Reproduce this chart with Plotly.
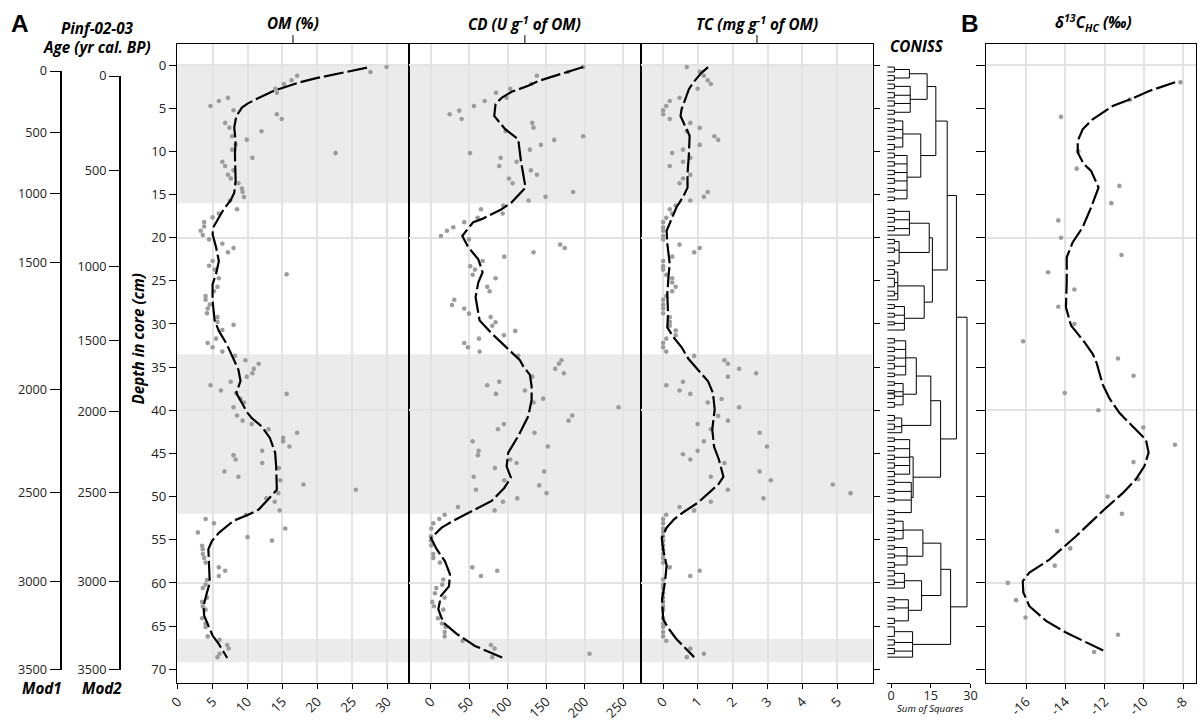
import plotly.graph_objects as go

# The page keeps the browser's default 8px body margin and the photograph covers a
# (W+16)x(H+16) page area scaled back to W x H, so positions are given in photo
# pixels and converted here.
W, H = 1204, 722
OFF = 8
SX, SY = (W + 2 * OFF) / W, (H + 2 * OFF) / H
def fx(px): return (px * SX - OFF) / W
def fy(py): return 1 - (py * SY - OFF) / H
FS = 1.015  # font compensation for the down-scaling

# ---------------- data ----------------
depth_ticks = [0, 5, 10, 15, 20, 25, 30, 35, 40, 45, 50, 55, 60, 65, 70]
grid_depths = [0, 20, 40, 60]

# age-depth models: tick ages and their depth position (cm)
mod_ages = [0, 500, 1000, 1500, 2000, 2500, 3000, 3500]
mod1_depth = [0.69, 7.83, 14.88, 22.86, 37.62, 49.58, 59.79, 70.0]
mod2_depth = [1.27, 12.26, 23.33, 31.92, 40.13, 49.58, 59.79, 70.0]

om_depth = [0.23,0.8,1.23,1.77,2.2,2.74,3.2,3.8,4.16,4.74,
            5.24,5.7,6.25,6.7,7.25,7.67,8.25,8.64,9.2,9.8,
            10.2,10.75,11.2,11.7,12.2,12.7,13.15,13.7,14.3,14.7,
            15.3,15.7,16.7,17.2,17.65,18.2,18.7,19.2,19.7,20.2,
            20.7,21.2,21.7,22.7,23.25,23.7,24.25,24.7,25.7,26.2,
            26.75,27.2,27.76,28.2,28.76,29.2,29.76,30.1,30.7,31.7,
            32.2,32.7,33.2,33.7,34.2,34.6,35.2,35.7,36.1,36.7,
            37.1,37.7,38.0,38.1,38.65,39.1,39.65,40.6,41.2,41.6,
            42.2,42.6,43.2,43.6,44.2,44.7,45.2,45.7,46.1,46.7,
            47.1,47.7,48.1,48.6,49.2,49.6,50.2,50.6,51.6,52.1,
            52.6,53.1,53.7,54.15,54.7,55.1,55.7,56.1,56.65,57.1,
            57.65,58.2,58.6,59.2,59.66,60.2,60.6,61.7,62.2,62.7,
            63.1,64.1,64.7,65.1,66.2,66.6,67.2,67.6,68.2,68.6]
om_value = [29.9,27.6,17.1,16.3,15.2,14.0,14.2,7.2,5.9,4.7,
            8.0,14.2,14.9,6.8,7.4,12.0,7.8,9.9,8.3,7.8,
            22.6,10.7,6.4,6.8,8.0,7.2,7.6,8.7,9.2,9.3,
            9.5,7.5,8.5,5.9,5.0,3.8,3.8,3.3,3.6,4.5,
            6.4,8.0,7.2,5.0,4.5,5.3,15.6,5.9,5.7,5.2,
            4.0,4.0,4.6,4.3,4.2,5.7,5.7,8.0,6.4,5.5,
            4.3,5.0,6.4,8.2,9.7,11.6,10.9,10.7,9.9,7.6,
            4.7,6.2,8.4,15.6,9.0,9.5,8.0,8.5,9.3,10.6,
            13.0,17.1,15.1,15.1,16.0,12.1,8.0,8.3,12.1,14.5,
            6.7,8.7,14.7,18.0,25.5,14.4,12.7,13.9,14.6,9.8,
            4.0,5.2,15.4,2.9,10.0,13.5,3.5,3.6,3.6,3.8,
            4.0,5.9,6.8,5.9,4.2,4.0,3.6,4.2,3.5,3.6,
            4.0,3.5,4.0,4.0,4.3,6.0,7.1,7.3,6.0,5.7]
om_line_depth = [0.3,1.54,2.04,2.54,3.0,4.0,4.47,4.93,5.9,7.25,
                 8.8,10.3,11.9,13.4,14.8,15.65,16.7,18.8,19.6,21.1,
                 22.7,24.2,25.4,27.3,29.6,30.8,32.3,34.2,35.3,36.6,
                 38.0,39.15,40.2,40.9,41.85,43.2,44.9,46.5,49.2,50.1,
                 51.5,52.1,52.8,54.2,55.15,56.1,57.65,60.0,61.1,62.7,
                 63.8,65.0,66.1,67.1,68.7]
om_line_value = [27.1,19.7,17.3,15.4,13.7,11.1,10.0,9.2,8.4,8.1,
                 8.3,8.2,8.3,8.3,8.1,7.6,6.6,5.1,5.0,5.5,
                 5.9,5.5,5.0,5.0,5.3,5.9,7.0,8.1,8.7,9.0,
                 8.4,9.2,9.9,10.6,12.0,13.2,13.95,14.1,14.2,13.2,
                 11.6,10.1,8.0,5.9,4.9,4.4,4.5,4.6,4.2,3.7,
                 3.8,4.4,5.0,5.9,7.1]

cd_depth = [0.23,0.8,1.23,2.2,2.74,3.2,3.78,4.16,4.74,5.28,
            5.7,6.25,6.7,7.25,7.67,8.25,8.67,9.25,9.8,10.2,
            10.75,11.2,11.7,12.2,12.7,13.15,13.7,14.7,15.27,15.7,
            16.27,16.7,17.2,17.7,18.2,18.8,19.2,19.8,20.2,20.8,
            21.2,21.7,22.2,22.7,23.3,23.7,24.3,24.7,25.7,26.2,
            27.2,27.8,28.2,28.8,29.2,29.8,30.2,30.8,31.3,31.7,
            32.2,32.7,33.2,33.7,34.2,34.6,35.2,35.7,36.1,36.7,
            37.1,37.7,38.1,38.65,39.1,39.65,40.6,41.2,41.6,42.2,
            42.6,43.6,44.2,44.7,45.2,45.7,46.1,46.7,47.1,47.7,
            48.1,48.7,49.2,49.6,50.2,50.6,51.2,51.6,52.1,52.6,
            53.1,53.7,54.6,55.1,55.65,56.65,57.1,57.65,58.2,58.6,
            59.2,59.6,60.2,60.6,61.2,61.7,62.2,62.7,63.1,64.1,
            64.7,65.1,65.7,66.2,66.7,67.2,67.6,68.2,68.6]
cd_value = [198,178.5,137.8,130.4,103.1,84.5,98.4,69.8,55.9,36.8,
            24.3,39.9,131.7,133.4,97.1,198,160.3,143,128.7,50.7,
            90.6,111.4,88.8,130,137.8,101.4,106.2,185,149,127,
            94,65,93.2,60.7,43.3,29,20.8,13,49.4,168,
            174,133.4,95.3,67.2,51.1,57.2,54.2,84,73.2,76.3,
            30.3,27.3,43.3,49.4,77.6,84,79.7,109.6,94.9,62.4,
            43.3,48.1,63.3,113.5,169.8,166.4,161.6,172.9,131.7,88.8,
            73.2,122.2,84.5,146,133.4,244,183.7,179,94.9,87.1,
            134.7,54.2,152,62,61,103,111.4,83.2,147.3,55.5,
            95.3,140.8,58.5,150.3,112.2,93.6,35.1,82.8,17.8,10.8,
            3,0.4,0,0,0.4,3,3,11.7,53.7,86.2,
            65,16,14.7,6.9,5.2,17.8,1.7,3.9,16,9.1,
            14.3,19.1,17.8,17.8,41.2,78,82.8,206.2,79.7]
cd_line_depth = [0.23,0.77,1.54,1.85,2.4,3.1,3.8,4.5,5.9,7.4,
                 8.6,11.1,14.2,15.9,16.7,17.85,18.2,19.8,21.1,22.5,
                 24.0,25.2,26.9,29.6,31.1,32.9,34.2,34.9,35.9,37.2,
                 38.8,40.7,43.0,44.9,46.5,47.8,49.0,50.5,51.7,52.8,
                 53.6,54.8,56.1,57.5,59.0,60.4,61.5,63.05,64.6,65.9,
                 67.3,68.7]
cd_line_value = [198,178.5,152.5,139.5,126.5,104.9,91.9,84,82.3,96.2,
                 113.5,117,123,104.9,91.9,65.9,55,40.7,48.5,61.5,
                 67.2,61.5,58,63.3,78.9,100.5,115.7,120,128.7,130.9,
                 130.9,126.5,113.5,100.5,98.4,104,95.3,78.9,52.9,29,
                 13.9,0,7.4,18.2,24.7,23.4,13,9.5,16,33.4,
                 57.2,94]

tc_depth = [0.23,0.77,1.23,1.77,2.2,2.74,3.78,4.16,4.74,5.24,
            5.7,6.25,6.7,7.28,7.67,8.25,8.67,9.25,9.8,10.2,
            10.75,11.2,11.7,12.7,13.15,13.7,14.7,15.27,15.7,16.27,
            16.7,17.2,17.7,18.2,18.8,19.2,19.8,20.2,20.8,21.2,
            21.7,22.2,22.7,23.3,23.7,24.3,24.7,25.2,25.7,26.2,
            26.75,27.2,27.76,28.2,28.76,29.2,29.76,30.2,30.76,31.3,
            31.7,32.2,32.7,33.2,33.7,34.2,34.6,35.2,35.7,36.1,
            36.7,37.1,37.7,38.1,38.7,39.1,39.65,40.65,41.2,41.6,
            42.2,42.6,43.6,44.2,44.7,45.1,45.7,46.1,47.1,47.7,
            48.1,48.6,49.2,49.6,50.2,50.6,51.2,51.6,52.1,52.6,
            53.1,53.7,54.1,54.6,55.1,55.65,56.1,56.65,57.1,57.65,
            58.2,58.6,59.2,59.6,60.2,60.6,61.2,61.7,62.2,62.7,
            63.1,64.1,64.7,65.1,65.7,66.2,66.7,67.6,68.2,68.6]
tc_value = [0.68,1.05,1.17,1.28,1.37,0.99,0.47,0.19,0.09,0.0,
            0.0,0.19,0.78,1.05,0.68,1.47,1.58,1.05,0.57,0.26,
            0.78,0.57,0.19,0.78,0.57,0.47,1.28,1.17,0.78,0.36,
            0.19,0.26,0.09,0.0,0.0,0.0,0.0,0.0,0.47,1.05,
            0.89,0.26,0.0,0.0,0.0,0.09,0.26,0.26,0.36,0.26,
            0.09,0.0,0.0,0.0,0.0,0.19,0.19,0.19,0.36,0.36,
            0.09,0.0,0.0,0.09,0.89,1.76,1.86,2.18,2.67,1.86,
            0.57,0.09,0.47,0.78,1.68,1.28,2.18,1.58,1.86,0.99,
            1.37,2.77,1.17,2.98,0.99,0.57,0.78,1.76,2.77,1.37,
            3.09,4.87,1.86,5.38,2.88,1.37,0.47,0.89,0.09,0.0,
            0.0,0.0,0.0,0.0,0.0,0.0,0.0,0.0,0.0,0.0,
            0.19,1.05,0.78,0.0,0.0,0.0,0.0,0.0,0.0,0.0,
            0.0,0.0,0.0,0.0,0.0,0.0,0.09,0.78,1.17,0.68]
tc_line_depth = [0.23,0.9,2.04,2.8,3.8,5.1,5.9,6.9,8.2,10.3,
                 12.6,14.2,15.3,16.5,18.2,19.2,20.7,23.05,24.2,26.5,
                 28.8,30.4,31.5,32.7,34.0,35.1,36.65,38.0,39.9,42.2,
                 44.2,45.7,47.7,48.6,49.6,50.7,51.7,52.6,53.6,54.8,
                 56.1,58.0,60.0,61.9,64.2,65.2,66.5,68.6]
tc_line_value = [1.29,1.1,0.86,0.74,0.65,0.53,0.5,0.62,0.76,0.74,
                 0.7,0.7,0.57,0.38,0.19,0.1,0.12,0.19,0.16,0.12,
                 0.14,0.12,0.29,0.53,0.72,0.96,1.29,1.43,1.48,1.41,
                 1.46,1.6,1.73,1.58,1.29,1.0,0.62,0.32,0.1,-0.04,
                 0.0,0.1,0.05,-0.03,0.0,0.14,0.38,0.89]

d13c_depth = [2,4,6,10,12,14,16,18,20,22,24,26,28,30,32,34,36,38,40,42,
              44,46,48,50,52,54,56,58,60,62,64,66,68]
d13c_value = [-8.14,-10.71,-14.22,-13.34,-13.42,-11.25,-11.66,-14.36,-14.22,-11.14,
              -14.88,-13.54,-14.36,-13.54,-16.15,-11.32,-10.53,-14.03,-12.32,-10.03,
              -8.42,-10.53,-10.29,-11.85,-11.12,-14.42,-13.75,-14.54,-16.93,-16.51,
              -16.03,-11.32,-12.54]
d13c_line_depth = [2.0,3.0,3.86,4.74,6.28,7.44,8.79,10.14,11.41,12.26,
                   14.19,16.5,18.8,20.55,22.28,24.98,28.06,30.18,32.1,33.46,
                   34.5,37.0,38.6,40.3,41.85,43.4,44.9,46.5,48.0,49.6,
                   51.5,54.6,57.3,58.8,59.8,61.1,62.7,64.4,65.75,66.9,67.95]
d13c_line_value = [-8.41,-9.73,-10.58,-11.59,-12.61,-13.12,-13.37,-13.37,-13.08,-12.69,
                   -12.31,-12.69,-13.12,-13.63,-13.93,-13.93,-13.97,-13.71,-13.03,-12.61,
                   -12.41,-12.1,-11.76,-11.25,-10.58,-9.9,-9.76,-9.98,-10.41,-11.08,
                   -12.02,-13.46,-14.81,-15.83,-16.17,-16.14,-15.83,-14.98,-13.97,-12.95,-11.97]

# zones (shaded bands, cm)
zone_top = [0, 33.5, 66.5]
zone_bottom = [16.0, 52.0, 69.2]

# CONISS: terminal clusters (depth bounds, sum of squares) and hierarchy
coniss_bounds = [0, 2.0, 6.0, 9.9, 15.9, 19.9, 23.5, 27.5, 31.5, 36.4, 39.9,
                 42.9, 47.9, 52.3, 55.4, 58.4, 61.4, 64.9, 70]
coniss_cluster_ss = [6.9, 7.2, 4.4, 6.0, 6.9, 3.0, 2.5, 5.0, 5.5, 4.5, 4.0,
                     7.0, 7.6, 4.5, 6.0, 5.0, 6.5, 8.1]
coniss_pair_ss = 1.2
coniss_tree = [28.7,
               [24.7,
                [21.2,
                 [16.9, [13.6, 0, 1], [11.2, 2, 3]],
                 [15.6, [14.4, 4, 5], [12.5, 6, 7]]],
                [18.7, [15.0, [9.5, 8, 9], 10], [8.3, 11, 12]]],
               [22.5, [18.8, [12.0, 13, 14], [11.5, 15, 16]], 17]]

om_ticks = [0, 5, 10, 15, 20, 25, 30]
cd_ticks = [0, 50, 100, 150, 200, 250]
tc_ticks = [0, 1, 2, 3, 4, 5]
d13c_ticks = [-16, -14, -12, -10, -8]
coniss_ticks = [0, 15, 30]

# ---------------- figure ----------------
FONT = "Open Sans"
TXT = "#222222"
Y_DOM = [fy(682.7), fy(42.7)]
Y_RANGE = [71.55, -2.463]

fig = go.Figure()
PT = dict(color="#9c9c9c", size=4.6)
LN = dict(color="black", width=2.2, dash="20px,4px")

def add_panel(xa, d, v, ld, lv):
    fig.add_trace(go.Scatter(x=v, y=d, mode="markers", marker=PT, xaxis=xa, yaxis="y",
                             hoverinfo="skip", showlegend=False))
    fig.add_trace(go.Scatter(x=lv, y=ld, mode="lines", line=LN, xaxis=xa, yaxis="y",
                             hoverinfo="skip", showlegend=False))

add_panel("x", om_depth, om_value, om_line_depth, om_line_value)
add_panel("x2", cd_depth, cd_value, cd_line_depth, cd_line_value)
add_panel("x3", tc_depth, tc_value, tc_line_depth, tc_line_value)
add_panel("x5", d13c_depth, d13c_value, d13c_line_depth, d13c_line_value)

# empty carriers so that the extra depth-tick axes are drawn
for xa, ya in (("x", "y2"), ("x3", "y3"), ("x5", "y4")):
    fig.add_trace(go.Scatter(x=[None], y=[None], mode="markers", xaxis=xa, yaxis=ya,
                             hoverinfo="skip", showlegend=False))

# age-model axes
for ya, md in (("y5", mod1_depth), ("y6", mod2_depth)):
    fig.add_trace(go.Scatter(x=[0.5] * len(md), y=md, mode="markers",
                             marker=dict(size=1, opacity=0), xaxis="x6", yaxis=ya,
                             hoverinfo="skip", showlegend=False))

# dendrogram
dx, dy = [], []
def seg(x0, y0, x1, y1):
    dx.extend([x0, x1, None]); dy.extend([y0, y1, None])

LEAF_START = -1.5
def draw_cluster(i):
    lo, hi = coniss_bounds[i], coniss_bounds[i + 1]
    leaves = [d for d in om_depth if lo <= d < hi]
    attach = []
    for k in range(0, len(leaves), 2):
        grp = leaves[k:k + 2]
        if len(grp) == 2:
            for d in grp:
                seg(LEAF_START, d, coniss_pair_ss, d)
            seg(coniss_pair_ss, grp[0], coniss_pair_ss, grp[1])
            attach.append(((grp[0] + grp[1]) / 2, coniss_pair_ss))
        else:
            attach.append((grp[0], LEAF_START))
    h = coniss_cluster_ss[i]
    for y, x in attach:
        seg(x, y, h, y)
    seg(h, attach[0][0], h, attach[-1][0])
    return ((attach[0][0] + attach[-1][0]) / 2, h)

def draw(node):
    if isinstance(node, int):
        return draw_cluster(node)
    h = node[0]
    kids = [draw(c) for c in node[1:]]
    for y, x in kids:
        seg(x, y, h, y)
    seg(h, kids[0][0], h, kids[-1][0])
    return ((kids[0][0] + kids[-1][0]) / 2, h)

draw(coniss_tree)
fig.add_trace(go.Scatter(x=dx, y=dy, mode="lines", line=dict(color="black", width=1),
                         xaxis="x4", yaxis="y7", hoverinfo="skip", showlegend=False))

# shaded zones
shapes = []
for xa in ["x", "x2", "x3"]:
    for t, b in zip(zone_top, zone_bottom):
        shapes.append(dict(type="rect", xref=f"{xa} domain", x0=0, x1=1, yref="y",
                           y0=t, y1=b, fillcolor="#ebebeb", line=dict(width=0), layer="below"))
    shapes.append(dict(type="line", xref=f"{xa} domain", x0=0.5, x1=0.5, yref="paper",
                       y0=fy(42.7), y1=fy(34), line=dict(color="black", width=1)))

tickfont = dict(family=FONT, size=13 * FS, color=TXT)
def xaxis(dom, rng, tv, tt=None, anchor="y", angle=-45, grid=True, mirror=True):
    d = dict(domain=[fx(dom[0]), fx(dom[1])], range=rng, tickmode="array", tickvals=tv,
             showline=True, linecolor="black", linewidth=1.4, mirror=mirror,
             ticks="outside", ticklen=5, tickwidth=1.2, tickcolor="black",
             showgrid=grid, gridcolor="#e3e3e3", gridwidth=1.6, zeroline=False,
             tickangle=angle, tickfont=tickfont, anchor=anchor, fixedrange=True)
    if tt is not None:
        d["ticktext"] = tt
    return d

coniss_x = xaxis((886, 969.3), [-1.51, 30], coniss_ticks, anchor="y7", angle=0,
                 grid=False, mirror=False)
coniss_x.update(ticklen=4, ticklabelstandoff=-3,
                tickfont=dict(family=FONT, size=12.5 * FS, color=TXT))

agefont = dict(family=FONT, size=12.5 * FS, color=TXT)
fig.update_layout(
    width=W, height=H, autosize=False,
    margin=dict(l=0, r=0, t=0, b=0),
    paper_bgcolor="white", plot_bgcolor="rgba(0,0,0,0)",
    showlegend=False,
    font=dict(family=FONT, color=TXT),
    xaxis=xaxis((175, 407.3), [-0.1, 33.11], om_ticks),
    xaxis2=xaxis((407.3, 639.3), [-28.6, 272.9], cd_ticks),
    xaxis3=xaxis((640, 871.3), [-0.622, 6.01], tc_ticks),
    xaxis4=coniss_x,
    xaxis5=xaxis((985, 1195), [-18.035, -7.353], d13c_ticks,
                 tt=[str(v) for v in d13c_ticks]),
    xaxis6=dict(domain=[0, fx(150)], range=[0, 1], visible=False, anchor="y5",
                fixedrange=True),
    yaxis=dict(domain=Y_DOM, range=Y_RANGE, tickmode="array", tickvals=grid_depths,
               showticklabels=False, ticks="", showgrid=True, gridcolor="#e3e3e3",
               gridwidth=1.6, showline=True, mirror="all", linecolor="black",
               linewidth=1.4, zeroline=False, anchor="x", fixedrange=True),
    yaxis2=dict(overlaying="y", anchor="x", side="left", range=Y_RANGE, tickmode="array",
                tickvals=depth_ticks, ticks="outside", ticklen=7, tickwidth=1.2,
                tickcolor="black", showgrid=False, zeroline=False, showline=False,
                tickfont=tickfont, fixedrange=True),
    yaxis3=dict(overlaying="y", anchor="x3", side="right", range=Y_RANGE, tickmode="array",
                tickvals=depth_ticks, ticks="outside", ticklen=6, tickwidth=1.2,
                tickcolor="black", showticklabels=False, showgrid=False, zeroline=False,
                showline=False, fixedrange=True),
    yaxis4=dict(overlaying="y", anchor="x5", side="left", range=Y_RANGE, tickmode="array",
                tickvals=depth_ticks, ticks="outside", ticklen=9, tickwidth=1.2,
                tickcolor="black", showticklabels=False, showgrid=False, zeroline=False,
                showline=False, fixedrange=True),
    yaxis5=dict(domain=[fy(670), fy(69.5)], range=[70.08, 0.636], anchor="free",
                position=fx(59.3), side="left", tickmode="array", tickvals=mod1_depth,
                ticktext=[str(a) for a in mod_ages], ticks="outside", ticklen=11,
                tickwidth=1.2, tickcolor="black", showline=True, linecolor="black",
                linewidth=1.5, showgrid=False, zeroline=False,
                tickfont=agefont, fixedrange=True),
    yaxis6=dict(domain=[fy(670), fy(74.5)], range=[70.08, 1.214], anchor="free",
                position=fx(117.7), side="left", tickmode="array", tickvals=mod2_depth,
                ticktext=[str(a) for a in mod_ages], ticks="outside", ticklen=10,
                tickwidth=1.2, tickcolor="black", showline=True, linecolor="black",
                linewidth=1.5, showgrid=False, zeroline=False,
                tickfont=agefont, fixedrange=True),
    yaxis7=dict(domain=Y_DOM, range=Y_RANGE, anchor="x4", visible=False, fixedrange=True),
    shapes=shapes,
)

def ann(text, px, py, size=15, angle=0, family=FONT, color="black"):
    fig.add_annotation(text=text, xref="paper", yref="paper", x=fx(px), y=fy(py),
                       xanchor="center", yanchor="middle", showarrow=False, textangle=angle,
                       font=dict(family=family, size=size * FS, color=color))

ann("<b>A</b>", 18, 22, size=24, family="Liberation Sans")
ann("<b>B</b>", 969, 22, size=24, family="Liberation Sans")
ann("<b><i>Pinf-02-03</i></b>", 95, 27)
ann("<b><i>Age (yr cal. BP)</i></b>", 95, 46)
ann("<b><i>OM (%)</i></b>", 291.2, 22)
ann("<b><i>CD (U g<sup>-1</sup> of OM)</i></b>", 523.3, 22)
ann("<b><i>TC (mg g<sup>-1</sup> of OM)</i></b>", 755.6, 22)
ann("<b><i>δ<sup>13</sup>C<sub>HC</sub> (‰)</i></b>", 1092, 22)
ann("<b><i>CONISS</i></b>", 916, 45)
ann("<i>Sum of Squares</i>", 929, 709, size=9.5)
ann("<b><i>Mod1</i></b>", 40, 688)
ann("<b><i>Mod2</i></b>", 100, 688)
ann("<b><i>Depth in core (cm)</i></b>", 136, 338, angle=-90)

fig.write_html("out.html")
